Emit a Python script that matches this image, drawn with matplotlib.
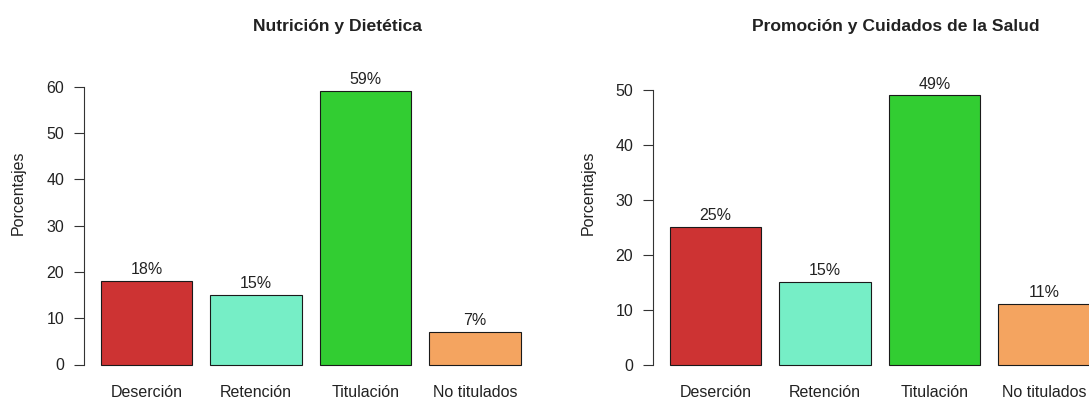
import matplotlib
matplotlib.use("Agg")
import matplotlib.pyplot as plt

plt.rcParams['font.family'] = ['Liberation Sans', 'DejaVu Sans']

categorias = ["Deserción", "Retención", "Titulación", "No titulados"]
colores = ["#CD3333", "#76EEC6", "#32CD32", "#F4A460"]

titulo_1 = "Nutrición y Dietética"
valores_1 = [18, 15, 59, 7]
yticks_1 = [0, 10, 20, 30, 40, 50, 60]

titulo_2 = "Promoción y Cuidados de la Salud"
valores_2 = [25, 15, 49, 11]
yticks_2 = [0, 10, 20, 30, 40, 50]

W, H = 1089, 401
fig = plt.figure(figsize=(W / 100, H / 100), dpi=100)

centros = [0.7, 1.9, 3.1, 4.3]
unidad = 91.3  # px per bar unit
fs = 11.5


def panel(x0, px_per_y, y0_px, yticks, valores, titulo, tx, lx):
    ymax = yticks[-1]
    ext = 0.04 * ymax
    bottom_px = y0_px + ext * px_per_y
    top_px = y0_px - (ymax + ext) * px_per_y
    width_px = 4.968 * unidad
    ax = fig.add_axes([x0 / W, 1 - bottom_px / H, width_px / W, (bottom_px - top_px) / H])
    ax.bar(centros, valores, width=1, color=colores, edgecolor="#1a1a1a", linewidth=0.8)
    ax.set_xlim(0.016, 4.984)
    ax.set_ylim(-ext, ymax + ext)
    for s in ["top", "right", "bottom"]:
        ax.spines[s].set_visible(False)
    ax.spines["left"].set_bounds(0, ymax)
    ax.spines["left"].set_linewidth(0.8)
    ax.spines["left"].set_color("#333333")
    ax.set_yticks(yticks)
    ax.tick_params(axis="y", direction="out", length=7.2, width=0.8, pad=7.0,
                   labelsize=fs, colors="#333333", labelcolor="#222222")
    ax.set_xticks(centros)
    ax.set_xticklabels(categorias)
    ax.tick_params(axis="x", length=0, pad=7.0, labelsize=fs, labelcolor="#222222")
    for c, v in zip(centros, valores):
        ax.annotate(f"{v}%", (c, v), xytext=(0, 5.0), textcoords="offset points",
                    ha="center", va="baseline", fontsize=fs, color="#222222")
    ax.patch.set_visible(False)
    fig.text(tx / W, 1 - 31 / H, titulo, ha="center", va="baseline",
             fontsize=12.6, fontweight="bold", color="#222222")
    fig.text(lx / W, 1 - 192.5 / H, "Porcentajes", rotation=90, ha="center",
             va="center", fontsize=fs, color="#222222")
    return ax


panel(84, 4.633, 364.5, yticks_1, valores_1, titulo_1, 337.5, 18.5)
panel(653, 5.49, 364.5, yticks_2, valores_2, titulo_2, 896, 588.5)

fig.savefig("out.png", dpi=100)
